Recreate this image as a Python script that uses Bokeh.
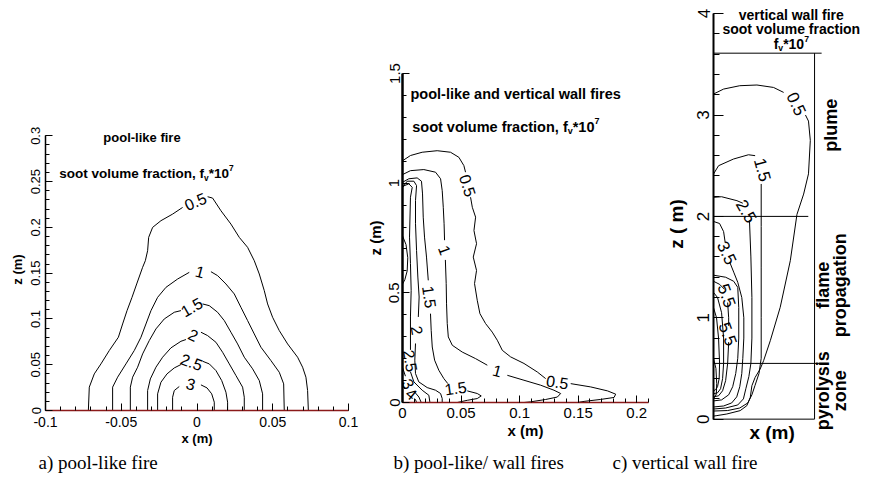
import math
from bokeh.plotting import figure
from bokeh.layouts import column, row
from bokeh.models import Range1d, FixedTicker, Label, ColumnDataSource
from bokeh.embed import file_html
from bokeh.resources import INLINE
from bokeh.core.properties import value

nan = float("nan")
SANS = "Liberation Sans"
SERIF = "Liberation Serif"
RED = "#8B1A1A"

# ---------------- panel a : pool-like fire ----------------
A_XTICKS = [-0.1, -0.05, 0, 0.05, 0.1]
A_XLABELS = ["-0.1", "-0.05", "0", "0.05", "0.1"]
A_ZTICKS = [0, 0.05, 0.1, 0.15, 0.2, 0.25, 0.3]
A_ZLABELS = ["0", "0.05", "0.1", "0.15", "0.2", "0.25", "0.3"]

A05_X = [-0.0717, -0.0711, -0.0678, -0.0634, -0.0579, -0.0519, -0.0491, -0.0462, -0.0429, -0.0398, -0.0359, -0.0341, -0.0326, -0.0319, -0.0293, -0.0238, -0.0161, -0.0095, nan, 0.0070, 0.0103, 0.0158, 0.0224, 0.0279, 0.0334, 0.0378, 0.0411, 0.0444, 0.0466, 0.0499, 0.0543, 0.0598, 0.0664, 0.0697, 0.0719, 0.0730, 0.0735]
A05_Z = [0, 0.0255, 0.0400, 0.0509, 0.0655, 0.0800, 0.0945, 0.1090, 0.1236, 0.1382, 0.1564, 0.1636, 0.1745, 0.1891, 0.2000, 0.2073, 0.2145, 0.2218, nan, 0.2335, 0.2320, 0.2182, 0.2036, 0.1891, 0.1782, 0.1636, 0.1491, 0.1309, 0.1164, 0.1018, 0.0873, 0.0727, 0.0582, 0.0473, 0.0364, 0.0218, 0]
A10_X = [-0.0557, -0.0557, -0.0524, -0.0469, -0.0414, -0.0370, -0.0337, -0.0304, -0.0260, -0.0205, -0.0128, -0.0051, nan, 0.0092, 0.0136, 0.0191, 0.0246, 0.0290, 0.0334, 0.0378, 0.0422, 0.0488, 0.0543, 0.0572, 0.0576]
A10_Z = [0, 0.0255, 0.0364, 0.0509, 0.0655, 0.0800, 0.0945, 0.1090, 0.1236, 0.1345, 0.1436, 0.1509, nan, 0.1516, 0.1473, 0.1382, 0.1273, 0.1127, 0.0982, 0.0836, 0.0691, 0.0545, 0.0418, 0.0291, 0]
A15_X = [-0.0440, -0.0440, -0.0425, -0.0392, -0.0359, -0.0315, -0.0271, -0.0216, -0.0150, -0.0106, nan, 0.0037, 0.0081, 0.0136, 0.0180, 0.0224, 0.0268, 0.0312, 0.0367, 0.0411, 0.0433, 0.0433]
A15_Z = [0, 0.0255, 0.0364, 0.0473, 0.0618, 0.0764, 0.0891, 0.1000, 0.1073, 0.1091, nan, 0.1164, 0.1145, 0.1073, 0.0982, 0.0855, 0.0727, 0.0582, 0.0455, 0.0327, 0.0182, 0]
A20_X = [-0.0326, -0.0326, -0.0308, -0.0271, -0.0227, -0.0172, -0.0106, -0.0073, nan, 0.0026, 0.0070, 0.0125, 0.0169, 0.0213, 0.0257, 0.0301, 0.0312, 0.0312]
A20_Z = [0, 0.0218, 0.0345, 0.0473, 0.0582, 0.0684, 0.0756, 0.0775, nan, 0.0855, 0.0818, 0.0745, 0.0636, 0.0509, 0.0382, 0.0255, 0.0145, 0]
A25_X = [-0.0260, -0.0260, -0.0238, -0.0198, -0.0150, -0.0106, nan, 0.0037, 0.0081, 0.0125, 0.0163, 0.0191, 0.0202, 0.0202]
A25_Z = [0, 0.0182, 0.0309, 0.0400, 0.0465, 0.0502, nan, 0.0538, 0.0509, 0.0436, 0.0327, 0.0200, 0.0091, 0]
A30_X = [-0.0161, -0.0161, -0.0150, -0.0117, nan, 0.0026, 0.0066, 0.0097, 0.0114, 0.0114]
A30_Z = [0, 0.0145, 0.0218, 0.0262, nan, 0.0280, 0.0247, 0.0182, 0.0091, 0]

A_LAB_TEXT = ["0.5", "1", "1.5", "2", "2.5", "3"]
A_LAB_X = [-0.0011, 0.0021, -0.0035, -0.0025, -0.0035, -0.0040]
A_LAB_Z = [0.2284, 0.1516, 0.1130, 0.0825, 0.0530, 0.0290]
A_LAB_ANG = [23, -15, 30, -25, -20, -15]

# ---------------- panel b : pool-like / wall fires ----------------
B_XTICKS = [0, 0.05, 0.1, 0.15, 0.2]
B_XLABELS = ["0", "0.05", "0.1", "0.15", "0.2"]
B_ZTICKS = [0, 0.5, 1, 1.5]
B_ZLABELS = ["0", "0.5", "1", "1.5"]

B05_X = [0, 0.0068, 0.0168, 0.0296, 0.0410, 0.0481, 0.0524, 0.0538, nan, 0.0581, 0.0596, 0.0624, 0.0610, 0.0632, 0.0604, 0.0632, 0.0615, 0.0638, 0.0661, 0.0709, 0.0766, 0.0809, 0.0852, 0.0923, 0.1037, 0.1151, 0.1222, nan, 0.1436, 0.1607, 0.1750, 0.1820, 0.1806, 0.1692, 0.1550, 0.1493]
B05_Z = [1.102, 1.126, 1.141, 1.148, 1.141, 1.118, 1.080, 1.050, nan, 0.936, 0.890, 0.845, 0.784, 0.724, 0.663, 0.602, 0.542, 0.466, 0.405, 0.360, 0.321, 0.284, 0.238, 0.208, 0.178, 0.139, 0.109, nan, 0.086, 0.071, 0.053, 0.038, 0.023, 0.014, 0.005, 0]
B10_X = [0, 0.0068, 0.0182, 0.0282, 0.0325, 0.0339, 0.0348, 0.0355, 0.0359, nan, 0.0366, 0.0373, 0.0376, 0.0382, 0.0391, 0.0425, 0.0510, 0.0624, 0.0724, nan, 0.0895, 0.1037, 0.1179, 0.1293, 0.1350, 0.1322, 0.1222, 0.1094, 0.1037]
B10_Z = [1.039, 1.057, 1.062, 1.050, 1.020, 0.966, 0.890, 0.815, 0.740, nan, 0.650, 0.542, 0.450, 0.360, 0.299, 0.261, 0.230, 0.200, 0.170, nan, 0.124, 0.1015, 0.079, 0.056, 0.041, 0.025, 0.0137, 0.003, 0]
B15_X = [0, 0.0054, 0.0125, 0.0162, 0.0171, 0.0177, 0.0188, 0.0205, 0.0220, nan, 0.0239, 0.0245, 0.0254, 0.0274, 0.0310, 0.0353, 0.0387, nan, 0.0553, 0.0638, 0.0672, 0.0638, 0.0553, 0.0467]
B15_Z = [1.004, 1.020, 1.024, 1.009, 0.951, 0.845, 0.754, 0.663, 0.557, nan, 0.405, 0.329, 0.253, 0.193, 0.147, 0.109, 0.086, nan, 0.053, 0.041, 0.030, 0.018, 0.010, 0]
B20_X = [0, 0.0040, 0.0097, 0.0120, 0.0111, 0.0111, 0.0120, 0.0131, 0.0142, 0.0135, nan, 0.0111, 0.0105, 0.0111, 0.0139, 0.0211, 0.0282, 0.0325, 0.0339, 0.0339]
B20_Z = [0.980, 1.009, 1.009, 0.989, 0.921, 0.815, 0.693, 0.572, 0.481, 0.390, nan, 0.269, 0.193, 0.132, 0.094, 0.068, 0.056, 0.041, 0.018, 0]
B25_X = [0, 0.0054, 0.0083, 0.0068, 0.0060, 0.0068, 0.0074, 0.0068, 0.0068, nan, 0.0068, 0.0097, 0.0168, 0.0225, 0.0234]
B25_Z = [0.985, 0.997, 0.981, 0.936, 0.754, 0.633, 0.511, 0.390, 0.240, nan, 0.140, 0.094, 0.056, 0.033, 0]
B30_X = [0, 0.0030, 0.0045, 0.0040, 0.0020, 0, nan, 0, 0.0025, nan, 0.0100, 0.0140, 0.0160]
B30_Z = [0.760, 0.720, 0.660, 0.600, 0.560, 0.540, nan, 0.160, 0.120, nan, 0.050, 0.025, 0]
B40_X = [0, 0.0020, nan, 0.0110, 0.0120]
B40_Z = [0.075, 0.062, nan, 0.015, 0]

B_LAB_TEXT = ["0.5", "0.5", "1", "1", "1.5", "1.5", "2", "2.5", "3", "4"]
B_LAB_X = [0.0558, 0.1322, 0.0362, 0.0809, 0.0231, 0.0453, 0.0125, 0.0068, 0.0050, 0.0078]
B_LAB_Z = [0.989, 0.094, 0.695, 0.145, 0.481, 0.066, 0.329, 0.190, 0.085, 0.040]
B_LAB_ANG = [-72, -8, -70, -15, -82, 8, -80, -80, -60, -40]

# ---------------- panel c : vertical wall fire ----------------
C_ZTICKS = [0, 1, 2, 3, 4]
C_ZLABELS = ["0", "1", "2", "3", "4"]
C_ZONE_Z = [0.55, 2.0, 3.61]
C_ZONE_XEND = [0.528, 0.469, 0.535]
C_BOX_X = [0, 0.5, 0.5]
C_BOX_Z = [0, 0, 3.61]

C05_X = [0, 0.050, 0.130, 0.215, 0.297, 0.347, nan, 0.455, 0.470, 0.479, 0.470, 0.446, 0.413, 0.380, 0.330, 0.281, 0.248, 0.231, 0.206, 0.190, 0.182, 0.165, 0.132, 0.066, 0.017, 0]
C05_Z = [3.207, 3.256, 3.289, 3.296, 3.272, 3.223, nan, 3.00, 2.94, 2.75, 2.42, 2.22, 2.02, 1.563, 1.103, 0.774, 0.577, 0.495, 0.412, 0.330, 0.215, 0.133, 0.084, 0.051, 0.035, 0.030]
C15_X = [0, 0.025, 0.099, 0.173, 0.206, nan, 0.236, 0.236, 0.236, 0.236, 0.236, 0.225, 0.205, 0.190, 0.170, 0.130, 0.070, 0]
C15_Z = [2.418, 2.500, 2.566, 2.608, 2.599, nan, 2.32, 1.90, 1.50, 1.00, 0.60, 0.45, 0.33, 0.24, 0.16, 0.11, 0.085, 0.08]
C25_X = [0, 0.040, 0.116, 0.145, nan, 0.178, 0.185, 0.190, 0.190, 0.185, 0.175, 0.160, 0.148, 0.120, 0.060, 0]
C25_Z = [2.188, 2.194, 2.155, 2.130, nan, 1.96, 1.60, 1.20, 0.80, 0.55, 0.42, 0.30, 0.20, 0.14, 0.11, 0.10]
C35_X = [0, 0.030, 0.050, 0.058, nan, 0.080, 0.100, 0.120, 0.140, 0.150, 0.150, 0.145, 0.140, 0.130, 0.115, 0.090, 0.050, 0]
C35_Z = [1.95, 1.93, 1.85, 1.74, nan, 1.55, 1.45, 1.35, 1.20, 1.00, 0.80, 0.60, 0.45, 0.32, 0.22, 0.16, 0.13, 0.12]
C45_X = [0, 0.060, 0.100, 0.120, 0.125, 0.125, 0.120, 0.110, 0.095, 0.075, 0.040, 0]
C45_Z = [1.42, 1.40, 1.36, 1.30, 1.10, 0.80, 0.60, 0.45, 0.32, 0.24, 0.19, 0.18]
C55_X = [0, 0.030, 0.055, nan, 0.070, 0.075, 0.075, nan, 0.075, 0.070, 0.060, 0.045, 0.025, 0]
C55_Z = [1.36, 1.33, 1.28, nan, 1.15, 1.00, 0.92, nan, 0.76, 0.55, 0.38, 0.28, 0.23, 0.22]
C65_X = [0, 0.020, 0.040, 0.050, 0.050, 0.045, 0.035, 0.020, 0]
C65_Z = [1.25, 1.20, 1.05, 0.80, 0.55, 0.40, 0.30, 0.26, 0.25]
C75_X = [0, 0.015, 0.025, 0.030, 0.028, 0.020, 0.010, 0]
C75_Z = [1.10, 1.00, 0.80, 0.55, 0.40, 0.32, 0.29, 0.28]
C85_X = [0, 0.012, 0.016, 0.014, 0.008, 0]
C85_Z = [0.60, 0.50, 0.35, 0.25, 0.22, 0.21]

C_LAB_TEXT = ["0.5", "1.5", "2.5", "3.5", "5.5", "5.5"]
C_LAB_X = [0.410, 0.243, 0.163, 0.066, 0.066, 0.072]
C_LAB_Z = [3.110, 2.460, 2.050, 1.640, 1.218, 0.840]
C_LAB_ANG = [-65, -75, -60, -65, -70, -70]

C_ZONES = ["plume", "flame", "propagation", "pyrolysis", "zone"]
C_ZONE_LX = [0.583, 0.540, 0.628, 0.540, 0.628]
C_ZONE_LZ = [2.90, 1.32, 1.32, 0.28, 0.28]

CAPTIONS = ["a) pool-like fire", "b) pool-like/ wall fires", "c) vertical wall fire"]

H_MAIN = 450
H_CAP = 33


def base_fig(w, h, xr, yr, left, right, top, bottom, **kw):
    p = figure(width=w, height=h, x_range=Range1d(*xr), y_range=Range1d(*yr),
               output_backend="svg", toolbar_location=None,
               min_border_left=left, min_border_right=right,
               min_border_top=top, min_border_bottom=bottom, **kw)
    p.frame_align = False
    p.outline_line_color = None
    p.grid.visible = False
    p.background_fill_color = "white"
    p.border_fill_color = "white"
    return p


def style_axis(ax, ticks, labels, minor, font_px, tick_in, minor_in, standoff,
               label_text, label_px, label_standoff, line_color="black", line_width=1.5, bounds=None):
    ax.ticker = FixedTicker(ticks=ticks, minor_ticks=minor)
    ax.major_label_overrides = {t: l for t, l in zip(ticks, labels)}
    ax.major_label_text_font = SANS
    ax.major_label_text_font_size = f"{font_px}px"
    ax.major_label_text_color = "black"
    ax.major_label_standoff = standoff
    ax.major_tick_in = tick_in
    ax.major_tick_out = 0
    ax.minor_tick_in = minor_in
    ax.minor_tick_out = 0
    ax.major_tick_line_color = "black"
    ax.minor_tick_line_color = "black"
    ax.axis_line_color = line_color
    ax.axis_line_width = line_width
    ax.axis_label = label_text
    ax.axis_label_text_font = SANS
    ax.axis_label_text_font_style = "bold"
    ax.axis_label_text_font_size = f"{label_px}px"
    ax.axis_label_text_color = "black"
    ax.axis_label_standoff = label_standoff
    if bounds is not None:
        ax.bounds = bounds


def draw_contours(p, pairs):
    for xs, zs in pairs:
        p.line(x=xs, y=zs, line_color="black", line_width=1)


def draw_labels(p, texts, xs, zs, angs, size):
    src = ColumnDataSource(dict(x=xs, y=zs, text=texts, angle=[math.radians(a) for a in angs]))
    p.text(x="x", y="y", text="text", angle="angle", source=src,
           text_font=value(SANS), text_font_size=value(f"{size}px"),
           text_align="center", text_baseline="middle", text_color="black")


def sub_sup_line(p, x, y, main, sub, mid, sup, fs, align_center=False):
    em_main = {"soot volume fraction, f": 10.724, "f": 0.333}[main]
    sfs = fs * 0.62
    w_main = em_main * fs
    w_sub = 0.556 * sfs
    w_mid = 1.501 * fs
    w_sup = 0.556 * sfs
    total = w_main + w_sub + w_mid + w_sup
    x0 = -total / 2 if align_center else 0
    common = dict(x=x, y=y, text_font=SANS, text_font_style="bold", text_baseline="middle",
                  text_align="left", text_color="black")
    p.add_layout(Label(text=main, x_offset=x0, text_font_size=f"{fs}px", **common))
    p.add_layout(Label(text=sub, x_offset=x0 + w_main, y_offset=-fs * 0.3, text_font_size=f"{sfs:.1f}px", **common))
    p.add_layout(Label(text=mid, x_offset=x0 + w_main + w_sub, text_font_size=f"{fs}px", **common))
    p.add_layout(Label(text=sup, x_offset=x0 + w_main + w_sub + w_mid, y_offset=fs * 0.38, text_font_size=f"{sfs:.1f}px", **common))


def bold_label(p, x, y, text, fs, align="left", angle=0):
    p.add_layout(Label(x=x, y=y, text=text, text_font=SANS, text_font_style="bold",
                       text_font_size=f"{fs}px", text_align=align, text_baseline="middle",
                       angle=math.radians(angle), text_color="black"))


# ----- panel a figure -----
pa = base_fig(360, H_MAIN, (-0.1, 0.1), (0, 0.308), 45, 12, 128, 40)
style_axis(pa.xaxis[0], A_XTICKS, A_XLABELS, [round(-0.1 + 0.01 * i, 3) for i in range(21)],
           14, 7, 4, 6, "x (m)", 13, 1, line_color=RED, line_width=1.5)
style_axis(pa.yaxis[0], A_ZTICKS, A_ZLABELS, [round(0.01 * i, 3) for i in range(31)],
           13, 7, 4, 5, "z (m)", 13, 4, bounds=(0, 0.3))
pa.yaxis[0].major_label_orientation = "vertical"
draw_contours(pa, [(A05_X, A05_Z), (A10_X, A10_Z), (A15_X, A15_Z), (A20_X, A20_Z), (A25_X, A25_Z), (A30_X, A30_Z)])
draw_labels(pa, A_LAB_TEXT, A_LAB_X, A_LAB_Z, A_LAB_ANG, 16)
bold_label(pa, -0.0363, 0.298, "pool-like fire", 13, align="center")
sub_sup_line(pa, -0.0909, 0.2589, "soot volume fraction, f", "v", "*10", "7", 13.5)

# ----- panel b figure -----
pb = base_fig(290, H_MAIN, (0, 0.21), (0, 1.5), 42, 2, 73, 48)
style_axis(pb.xaxis[0], B_XTICKS, B_XLABELS, [round(0.01 * i, 3) for i in range(22)],
           15, 7, 4, 5, "x (m)", 15, 1, line_color=RED, line_width=1.5)
style_axis(pb.yaxis[0], B_ZTICKS, B_ZLABELS, [round(0.1 * i, 2) for i in range(16)],
           15, 7, 4, 3, "z (m)", 15, 3, line_width=2.5)
pb.yaxis[0].major_label_orientation = "vertical"
draw_contours(pb, [(B05_X, B05_Z), (B10_X, B10_Z), (B15_X, B15_Z), (B20_X, B20_Z), (B25_X, B25_Z), (B30_X, B30_Z), (B40_X, B40_Z)])
draw_labels(pb, B_LAB_TEXT, B_LAB_X, B_LAB_Z, B_LAB_ANG, 16)
bold_label(pb, 0.0068, 1.406, "pool-like and vertical wall fires", 14.5)
sub_sup_line(pb, 0.0083, 1.258, "soot volume fraction, f", "v", "*10", "7", 14.5)

# ----- panel c figure -----
pc = base_fig(236, H_MAIN, (0, 0.856), (-0.25, 4.1), 63, 0, 3, 6, x_axis_location=None)
style_axis(pc.yaxis[0], C_ZTICKS, C_ZLABELS, [round(0.2 * i, 2) for i in range(21)],
           17, 10, 6, 4, "z ( m)", 19, 8, line_width=2, bounds=(0, 4))
pc.yaxis[0].major_label_orientation = "vertical"
pc.line(x=C_BOX_X, y=C_BOX_Z, line_color="black", line_width=1)
pc.segment(x0=[0] * len(C_ZONE_Z), y0=C_ZONE_Z, x1=C_ZONE_XEND, y1=C_ZONE_Z, line_color="black", line_width=1)
draw_contours(pc, [(C05_X, C05_Z), (C15_X, C15_Z), (C25_X, C25_Z), (C35_X, C35_Z), (C45_X, C45_Z),
                   (C55_X, C55_Z), (C65_X, C65_Z), (C75_X, C75_Z), (C85_X, C85_Z)])
draw_labels(pc, C_LAB_TEXT, C_LAB_X, C_LAB_Z, C_LAB_ANG, 17)
bold_label(pc, 0.385, 3.989, "vertical wall fire", 14, align="center")
bold_label(pc, 0.385, 3.848, "soot volume fraction", 14, align="center")
sub_sup_line(pc, 0.385, 3.700, "f", "v", "*10", "7", 14, align_center=True)
for t, lx, lz in zip(C_ZONES, C_ZONE_LX, C_ZONE_LZ):
    bold_label(pc, lx, lz, t, 18, align="center", angle=90)
bold_label(pc, 0.29, -0.135, "x (m)", 19, align="center")

# ----- caption strip -----
CAP_X = [38, 393, 612]
pcap = figure(width=886, height=H_CAP, x_range=Range1d(0, 886), y_range=Range1d(0, H_CAP),
              output_backend="svg", toolbar_location=None, x_axis_location=None, y_axis_location=None,
              min_border=0)
pcap.frame_align = False
pcap.outline_line_color = None
pcap.grid.visible = False
for cx, ct in zip(CAP_X, CAPTIONS):
    pcap.add_layout(Label(x=cx, y=21, text=ct, text_font=SERIF, text_font_size="19px",
                          text_align="left", text_baseline="middle", text_color="black"))

layout = column(row(pa, pb, pc, spacing=0), pcap, spacing=0)
open("out.html", "w").write(file_html(layout, INLINE))
